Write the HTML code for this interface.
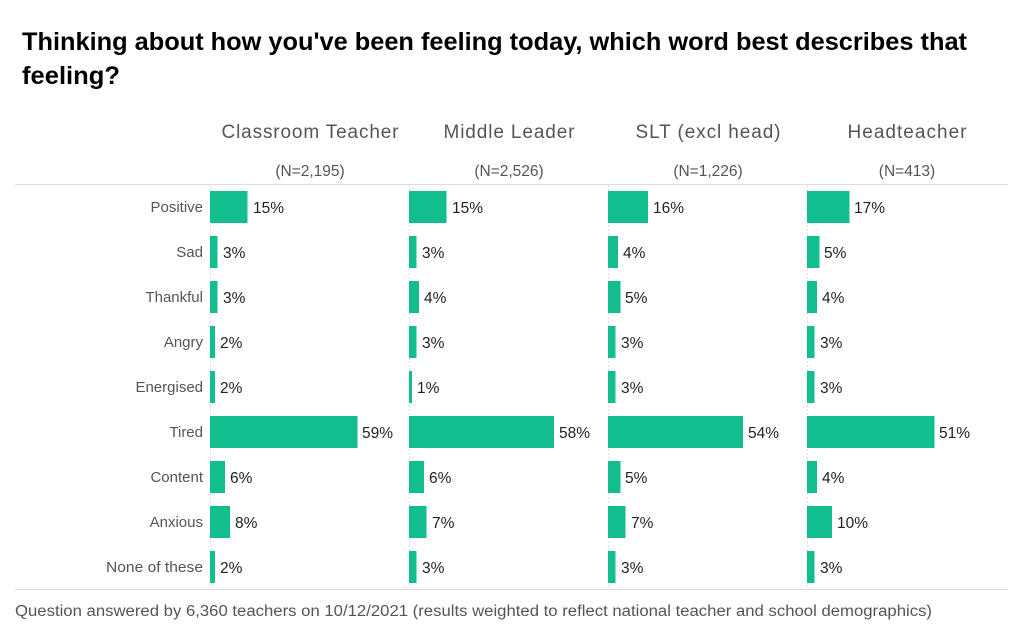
<!DOCTYPE html>
<html><head><meta charset="utf-8"><style>
body{margin:0;background:#fff;}
svg{display:block;font-family:"Liberation Sans",sans-serif;}
</style></head><body>
<svg width="1024" height="640" viewBox="0 0 1024 640">
<text x="22" y="50" font-size="25" font-weight="bold" fill="#000" textLength="945" lengthAdjust="spacingAndGlyphs">Thinking about how you've been feeling today, which word best describes that</text>
<text x="22" y="84" font-size="25" font-weight="bold" fill="#000" textLength="98" lengthAdjust="spacingAndGlyphs">feeling?</text>
<g font-size="19" fill="#555" text-anchor="middle" lengthAdjust="spacingAndGlyphs">
<text x="310" y="138" textLength="177">Classroom Teacher</text>
<text x="509" y="138" textLength="131">Middle Leader</text>
<text x="708" y="138" textLength="145">SLT (excl head)</text>
<text x="907" y="138" textLength="119">Headteacher</text>
</g>
<g font-size="15.5" fill="#555" text-anchor="middle">
<text x="310" y="176">(N=2,195)</text>
<text x="509" y="176">(N=2,526)</text>
<text x="708" y="176">(N=1,226)</text>
<text x="907" y="176">(N=413)</text>
</g>
<line x1="15" y1="184.5" x2="1008" y2="184.5" stroke="#ddd"/>
<line x1="15" y1="589.5" x2="1008" y2="589.5" stroke="#ddd"/>
<g stroke="#ddd" stroke-dasharray="2,2">
<line x1="210.5" y1="185" x2="210.5" y2="589"/>
<line x1="409.5" y1="185" x2="409.5" y2="589"/>
<line x1="608.5" y1="185" x2="608.5" y2="589"/>
<line x1="807.5" y1="185" x2="807.5" y2="589"/>
</g>
<g font-size="15" fill="#555" text-anchor="end">
<text x="203" y="212">Positive</text>
<text x="203" y="257">Sad</text>
<text x="203" y="302">Thankful</text>
<text x="203" y="347">Angry</text>
<text x="203" y="392">Energised</text>
<text x="203" y="437">Tired</text>
<text x="203" y="482">Content</text>
<text x="203" y="527">Anxious</text>
<text x="203" y="572" textLength="97" lengthAdjust="spacingAndGlyphs">None of these</text>
</g>
<g fill="#12be8f">
<rect x="210" y="191" width="37.5" height="32"/><rect x="210" y="236" width="7.5" height="32"/><rect x="210" y="281" width="7.5" height="32"/><rect x="210" y="326" width="5" height="32"/><rect x="210" y="371" width="5" height="32"/><rect x="210" y="416" width="147.5" height="32"/><rect x="210" y="461" width="15" height="32"/><rect x="210" y="506" width="20" height="32"/><rect x="210" y="551" width="5" height="32"/>
<rect x="409" y="191" width="37.5" height="32"/><rect x="409" y="236" width="7.5" height="32"/><rect x="409" y="281" width="10" height="32"/><rect x="409" y="326" width="7.5" height="32"/><rect x="409" y="371" width="3" height="32"/><rect x="409" y="416" width="145" height="32"/><rect x="409" y="461" width="15" height="32"/><rect x="409" y="506" width="17.5" height="32"/><rect x="409" y="551" width="7.5" height="32"/>
<rect x="608" y="191" width="40" height="32"/><rect x="608" y="236" width="10" height="32"/><rect x="608" y="281" width="12.5" height="32"/><rect x="608" y="326" width="7.5" height="32"/><rect x="608" y="371" width="7.5" height="32"/><rect x="608" y="416" width="135" height="32"/><rect x="608" y="461" width="12.5" height="32"/><rect x="608" y="506" width="17.5" height="32"/><rect x="608" y="551" width="7.5" height="32"/>
<rect x="807" y="191" width="42.5" height="32"/><rect x="807" y="236" width="12.5" height="32"/><rect x="807" y="281" width="10" height="32"/><rect x="807" y="326" width="7.5" height="32"/><rect x="807" y="371" width="7.5" height="32"/><rect x="807" y="416" width="127.5" height="32"/><rect x="807" y="461" width="10" height="32"/><rect x="807" y="506" width="25" height="32"/><rect x="807" y="551" width="7.5" height="32"/>
</g>
<g font-size="15.5" fill="#222">
<text x="253" y="213">15%</text><text x="223" y="258">3%</text><text x="223" y="303">3%</text><text x="220" y="348">2%</text><text x="220" y="393">2%</text><text x="362" y="438">59%</text><text x="230" y="483">6%</text><text x="235" y="528">8%</text><text x="220" y="573">2%</text>
<text x="452" y="213">15%</text><text x="422" y="258">3%</text><text x="424" y="303">4%</text><text x="422" y="348">3%</text><text x="417" y="393">1%</text><text x="559" y="438">58%</text><text x="429" y="483">6%</text><text x="432" y="528">7%</text><text x="422" y="573">3%</text>
<text x="653" y="213">16%</text><text x="623" y="258">4%</text><text x="625" y="303">5%</text><text x="621" y="348">3%</text><text x="621" y="393">3%</text><text x="748" y="438">54%</text><text x="625" y="483">5%</text><text x="631" y="528">7%</text><text x="621" y="573">3%</text>
<text x="854" y="213">17%</text><text x="824" y="258">5%</text><text x="822" y="303">4%</text><text x="820" y="348">3%</text><text x="820" y="393">3%</text><text x="939" y="438">51%</text><text x="822" y="483">4%</text><text x="837" y="528">10%</text><text x="820" y="573">3%</text>
</g>
<text x="15" y="616" font-size="15.5" fill="#555" textLength="917" lengthAdjust="spacingAndGlyphs">Question answered by 6,360 teachers on 10/12/2021 (results weighted to reflect national teacher and school demographics)</text>
</svg>
</body></html>
